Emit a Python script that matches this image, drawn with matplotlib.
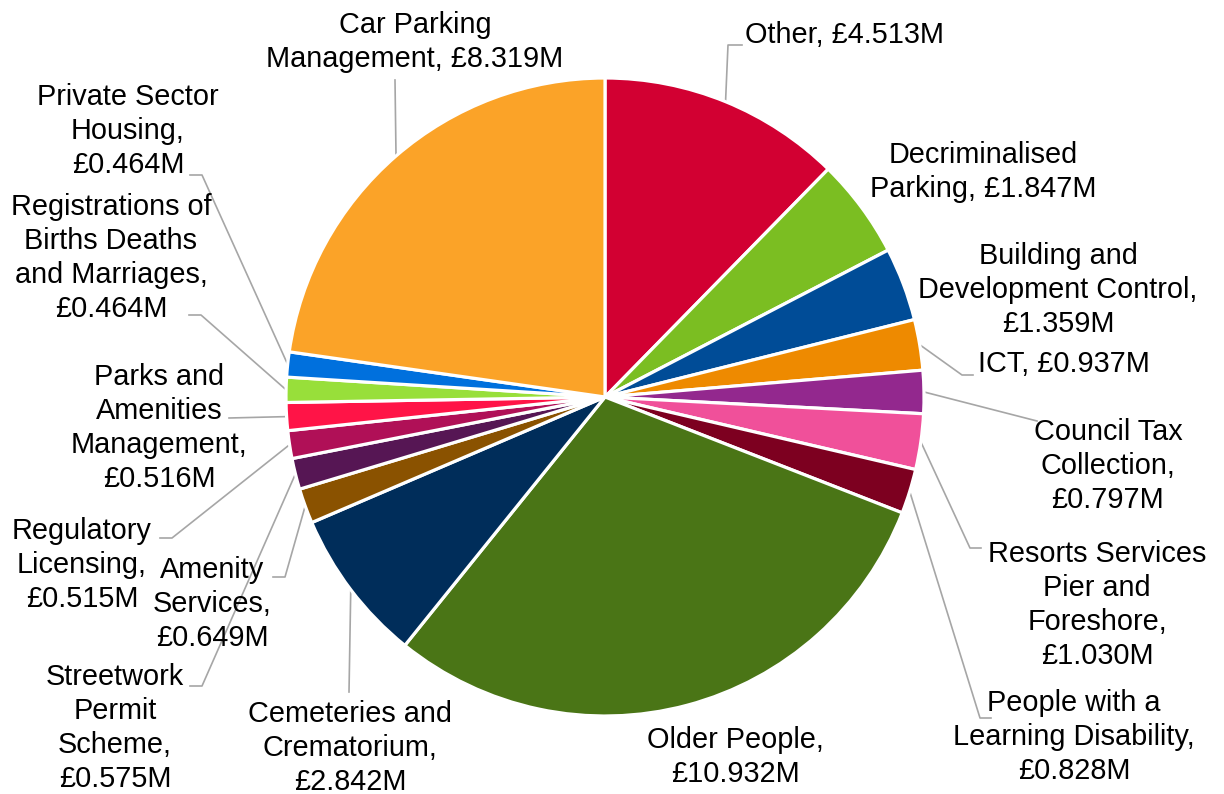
import numpy as np
import matplotlib
matplotlib.use('Agg')
import matplotlib.pyplot as plt

plt.rcParams['font.family'] = ['Liberation Sans', 'DejaVu Sans']

W, H = 1224, 794

# budget lines, clockwise from 12 o'clock
labels = [
    'Other', 'Decriminalised\nParking', 'Building and\nDevelopment Control',
    'ICT', 'Council Tax\nCollection', 'Resorts Services\nPier and\nForeshore',
    'People with a\nLearning Disability', 'Older People',
    'Cemeteries and\nCrematorium', 'Amenity\nServices',
    'Streetwork\nPermit\nScheme', 'Regulatory\nLicensing',
    'Parks and\nAmenities\nManagement', 'Registrations of\nBirths Deaths\nand Marriages',
    'Private Sector\nHousing', 'Car Parking\nManagement',
]
values = [4.513, 1.847, 1.359, 0.937, 0.797, 1.030, 0.828, 10.932,
          2.842, 0.649, 0.575, 0.515, 0.516, 0.464, 0.464, 8.319]
colors = ['#D20032', '#7BBE22', '#004C97', '#EE8A00', '#93288E', '#F0509A',
          '#7D0020', '#4A7516', '#002D5A', '#8A5200', '#561654', '#B01057',
          '#FF1447', '#98DF3A', '#0070DD', '#FBA328']

# separator before the amount in each label
seps = [', ', ', ', ',\n', ', ', ',\n', ',\n', ',\n', ',\n', ',\n', ',\n',
        ',\n', ',\n', ',\n', ',\n', ',\n', ', ']
# label anchor in pixels from top-left
label_pos = [(745, 35, 'left'), (983, 172, 'center'), (1058, 290, 'center'),
             (978, 364, 'left'), (1108, 466, 'center'), (1097, 605, 'center'),
             (1074, 737, 'center'), (735, 757, 'center'), (350, 748, 'center'),
             (212, 604, 'center'), (115, 728, 'center'), (82, 565, 'center'),
             (159, 428, 'center'), (111, 258, 'center'), (128, 131, 'center'),
             (415, 42, 'center')]
# leader line knees (pixels); the wedge edge is appended as the last point
leaders = {
    0: [(742, 45), (728, 45)],
    3: [(973, 375), (962, 375)],
    4: [(1037, 421)],
    5: [(981, 548), (970, 548)],
    6: [(991, 718), (980, 718)],
    8: [(349, 692)],
    9: [(273, 577), (285, 577)],
    10: [(190, 686), (202, 686)],
    11: [(160, 538), (172, 538)],
    12: [(229, 418)],
    13: [(189, 315), (201, 315)],
    14: [(190, 175), (202, 175)],
    15: [(395, 80)],
}

cx, cy, r = 605, 397, 319

fig = plt.figure(figsize=(W / 100, H / 100), dpi=100)
ax = fig.add_axes([0, 0, 1, 1])

wedges, _ = ax.pie(values, colors=colors, startangle=90, counterclock=False,
                   radius=r, center=(cx, H - cy),
                   wedgeprops=dict(edgecolor='white', linewidth=2.3))

for i, w in enumerate(wedges):
    x, y, ha = label_pos[i]
    txt = f'{labels[i]}{seps[i]}£{values[i]:.3f}M'
    ax.text(x, H - y, txt, ha=ha, va='center', fontsize=20.8,
            linespacing=1.27, color='black')
    if i in leaders:
        mid = np.deg2rad((w.theta1 + w.theta2) / 2)
        ex = cx + r * np.cos(mid)
        ey = (H - cy) + r * np.sin(mid)
        pts = [(px, H - py) for px, py in leaders[i]] + [(ex, ey)]
        xs, ys = zip(*pts)
        ax.plot(xs, ys, color='#A6A6A6', lw=1.2, zorder=0)

ax.set_xlim(0, W)
ax.set_ylim(0, H)
ax.set_aspect('equal')
ax.axis('off')

fig.savefig('out.png', dpi=100, facecolor='white')
